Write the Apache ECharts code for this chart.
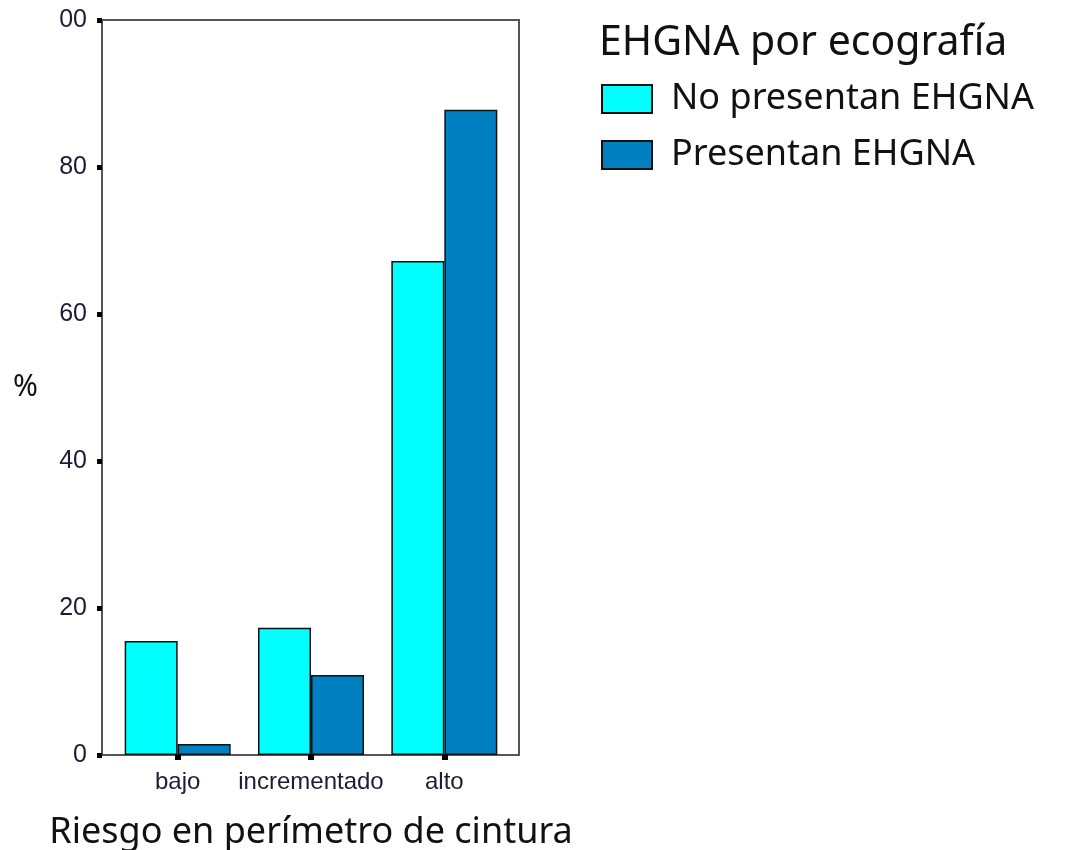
<!DOCTYPE html>
<html>
<head>
<meta charset="utf-8">
<script src="https://cdn.jsdelivr.net/npm/echarts@6/dist/echarts.min.js"></script>
<style>
  html, body { margin: 0; padding: 0; background: #fff; }
  #myCharts { width: 1067px; height: 850px; }
</style>
</head>
<body>
<div id="myCharts"></div>
<script>
// categories and values (percent)
let categories = ["bajo", "incrementado", "alto"];
let noPresentan = [15.5, 17.3, 67.2];
let presentan = [1.5, 10.9, 87.8];
let seriesNames = ["No presentan EHGNA", "Presentan EHGNA"];

const gothic = "'Noto Sans', 'DejaVu Sans', sans-serif";
const arial = "'Liberation Sans', Arial, sans-serif";

let option = {
  animation: false,
  title: {
    text: "EHGNA por ecografía",
    left: 594,
    top: 18,
    textStyle: { fontFamily: gothic, fontSize: 41, fontWeight: "normal", color: "#111" },
  },
  legend: {
    orient: "vertical",
    left: 596,
    top: 76,
    itemWidth: 50,
    itemHeight: 28,
    itemGap: 20,
    icon: "rect",
    data: seriesNames,
    textStyle: { fontFamily: gothic, fontSize: 36, color: "#111", padding: [0, 0, 0, 14] },
  },
  grid: [
    // outer frame
    { left: 102, top: 20, width: 417, height: 735, show: true, borderColor: "#555", borderWidth: 2, backgroundColor: "transparent", outerBoundsMode: "none" },
    // data area
    { left: 111, top: 20, width: 400, height: 735, outerBoundsMode: "none" },
  ],
  xAxis: {
    gridIndex: 1,
    type: "category",
    data: categories,
    name: "Riesgo en perímetro de cintura",
    nameLocation: "middle",
    nameGap: 60,
    nameTextStyle: { fontFamily: gothic, fontSize: 36, color: "#111" },
    axisLine: { show: true, lineStyle: { color: "#555", width: 2 } },
    axisTick: { show: true, alignWithLabel: true, length: 5, lineStyle: { color: "#000", width: 6 } },
    axisLabel: { interval: 0, hideOverlap: false, fontFamily: arial, fontSize: 24, color: "#1c1c34", margin: 15 },
  },
  yAxis: {
    gridIndex: 1,
    type: "value",
    min: 0,
    max: 100,
    interval: 20,
    offset: 9,
    name: "%",
    nameLocation: "middle",
    nameRotate: 0,
    nameGap: 64,
    nameTextStyle: { fontFamily: gothic, fontSize: 30, color: "#111" },
    splitLine: { show: false },
    axisLine: { show: true, lineStyle: { color: "#555", width: 2 } },
    axisTick: { show: true, length: 5, lineStyle: { color: "#000", width: 5 } },
    axisLabel: {
      fontFamily: arial,
      fontSize: 25,
      color: "#1c1c34",
      margin: 15,
      // top label is clipped in the original figure
      formatter: function (v) {
        return v === 100 ? "00" : String(v);
      },
    },
  },
  series: [
    {
      name: seriesNames[0],
      type: "bar",
      barWidth: 53,
      barGap: "0%",
      itemStyle: { color: "#00FFFF", borderColor: "#111", borderWidth: 1.5 },
      data: noPresentan,
    },
    {
      name: seriesNames[1],
      type: "bar",
      barWidth: 53,
      barGap: "0%",
      itemStyle: { color: "#0080C0", borderColor: "#111", borderWidth: 1.5 },
      data: presentan,
    },
  ],
};

let myChart = echarts.init(document.getElementById("myCharts"));
myChart.setOption(option);
</script>
</body>
</html>
